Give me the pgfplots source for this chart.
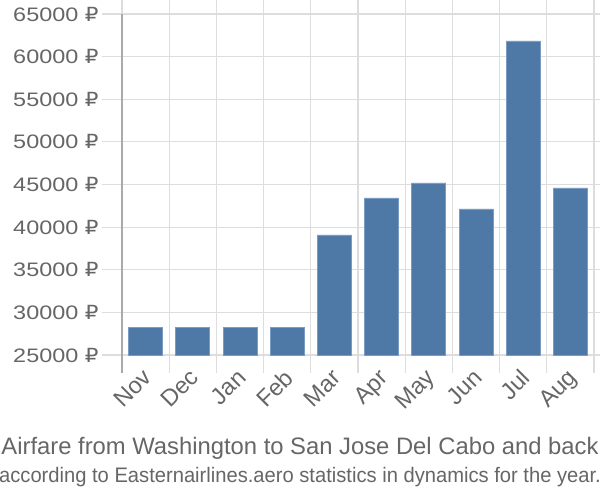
\documentclass[border=0pt]{standalone}
\usepackage{pgfplots}
\pgfplotsset{compat=1.18}
\usepackage{fontspec}
\setmainfont{Liberation Sans}
\newfontfamily\wide[FakeStretch=1.2]{Liberation Sans}
\newfontfamily\rub[FakeStretch=1.1]{DejaVu Sans}
\newfontfamily\narrow[FakeStretch=0.96]{Liberation Sans}
\definecolor{bar}{HTML}{4E79A7}
\definecolor{baredge}{HTML}{7A9CC4}
\definecolor{grid}{HTML}{DDDDDD}
\definecolor{txt}{HTML}{666666}
\definecolor{ax}{HTML}{AAAAAA}
\newcommand{\R}{{\rub ₽}}
\begin{document}
\begin{tikzpicture}
\path[use as bounding box] (0pt,0pt) rectangle (600pt,500pt);
\begin{axis}[
  at={(122pt,145pt)}, anchor=south west,
  scale only axis, width=472pt, height=341pt,
  xmin=-0.5, xmax=9.5, ymin=25000, ymax=65000,
  scaled y ticks=false,
  axis line style={draw=none},
  xtick={0,...,9},
  xticklabels={Nov,Dec,Jan,Feb,Mar,Apr,May,Jun,Jul,Aug},
  major x tick style={draw=none},
  minor xtick={-0.5,0.5,...,9.5},
  minor x tick style={draw=grid, line width=1.2pt},
  xminorgrids, minor grid style={draw=grid, line width=1.2pt},
  ytick={25000,30000,...,65000},
  yticklabels={25000 \R,30000 \R,35000 \R,40000 \R,45000 \R,50000 \R,55000 \R,60000 \R,65000 \R},
  ymajorgrids, major grid style={draw=grid, line width=1.2pt},
  major y tick style={draw=grid, line width=1.2pt},
  tick align=outside,
  major tick length=20pt, minor tick length=18pt,
  /pgf/number format/assume math mode=true,
  yticklabel style={font=\wide\fontsize{19.5}{22}\selectfont, text=txt, anchor=east},
  xticklabel style={font=\fontsize{23.5}{26}\selectfont, text=txt, xshift=-4pt, yshift=12pt, rotate=45, anchor=north east},
  clip=false,
]
\addplot[ybar, bar width=34pt, fill=bar, draw=baredge, line width=0.8pt]
  coordinates {(0,28284) (1,28284) (2,28284) (3,28284) (4,39076) (5,43416) (6,45176) (7,42126) (8,61833) (9,44589)};
\draw[ax, line width=1.2pt] (axis cs:-0.5,65000) -- (axis cs:-0.5,25000) -- ([yshift=-18pt]axis cs:-0.5,25000);
\end{axis}
\node[text=txt, font=\fontsize{23.8}{26}\selectfont, anchor=base] at (300pt,45pt) {Airfare from Washington to San Jose Del Cabo and back};
\node[text=txt, font=\narrow\fontsize{21}{24}\selectfont, anchor=base] at (300pt,17pt) {according to Easternairlines.aero statistics in dynamics for the year.};
\end{tikzpicture}
\end{document}
